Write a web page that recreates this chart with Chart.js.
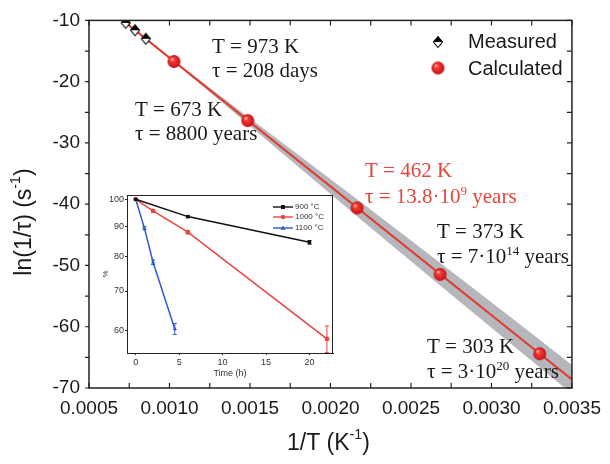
<!DOCTYPE html>
<html><head><meta charset="utf-8">
<script src="https://cdn.jsdelivr.net/npm/chart.js@4.4.0/dist/chart.umd.min.js"></script>
<style>
html,body{margin:0;padding:0;background:#fff;}
#wrap{position:relative;width:610px;height:464px;background:#fff;}
#main{position:absolute;left:0;top:0;width:610px;height:464px;}
#ins{position:absolute;left:100px;top:188px;width:240px;height:192px;}
</style></head><body>
<div id="wrap"><div id="main"><canvas id="c1"></canvas></div><div id="ins"><canvas id="c2"></canvas></div></div>
<script>
// ---------- main chart data ----------
const measuredX = [0.000728, 0.000786, 0.000853];
const measuredY = [-10.4, -11.6, -13.0];
const calcX = [0.001028, 0.001486, 0.002165, 0.002681, 0.0033];
const calcY = [-16.7, -26.35, -40.6, -51.45, -64.4];
const fitX = [0.00071, 0.0035];
const fitY = [-10.0, -68.6];
const bandX = [0.00071, 0.0010, 0.0013, 0.0016, 0.0019, 0.0022, 0.0025, 0.0028, 0.0031, 0.0035];
const bandUpper = [-9.95, -16.02, -22.06, -28.01, -33.96, -39.91, -45.96, -52.01, -58.10, -66.30];
const bandLower = [-10.05, -16.22, -22.76, -29.41, -36.06, -42.71, -49.26, -55.81, -62.30, -70.90];
const xMajorTicks = [0.0005, 0.0010, 0.0015, 0.0020, 0.0025, 0.0030, 0.0035];
const xTickLabels = ['0.0005', '0.0010', '0.0015', '0.0020', '0.0025', '0.0030', '0.0035'];
const xMinorTicks = [0.00075, 0.00125, 0.00175, 0.00225, 0.00275, 0.00325];
const yMajorTicks = [-70, -60, -50, -40, -30, -20, -10];
const yTickLabels = ['-70', '-60', '-50', '-40', '-30', '-20', '-10'];
const yMinorTicks = [-65, -55, -45, -35, -25, -15];
const legendLabels = ['Measured', 'Calculated'];
const annotationLines = [
  [['T = 973 K']], [['τ = 208 days']],
  [['T = 673 K']], [['τ = 8800 years']],
  [['T = 462 K']], [['τ = 13.8·10'], ['9', 1], [' years']],
  [['T = 373 K']], [['τ = 7·10'], ['14', 1], [' years']],
  [['T = 303 K']], [['τ = 3·10'], ['20', 1], [' years']]
];

// ---------- inset data ----------
const insetTime900 = [0, 6, 20];
const insetPct900 = [100, 93.5, 84.6];
const insetErr900 = [0, 0.4, 0.6];
const insetTime1000 = [0, 2, 6, 22];
const insetPct1000 = [100, 95.6, 88.0, 58.1];
const insetErr1000 = [0, 0.4, 0.6, 3.0];
const insetTime1100 = [0, 1, 2, 4.5];
const insetPct1100 = [100, 89.4, 78.3, 60.4];
const insetErr1100 = [0, 0.6, 0.7, 1.3];
const insetLabels = ['900 °C', '1000 °C', '1100 °C'];
const insetXTicks = [0, 5, 10, 15, 20];
const insetYTicks = [60, 70, 80, 90, 100];

// ---------- styles ----------
const RED = '#e4392f', RED_TXT = '#e5453b', INK = '#1a1a1a';
const SANS = '"Liberation Sans", Arial, sans-serif';
const SERIF = '"Liberation Serif", "Times New Roman", serif';
Chart.defaults.font.family = SANS;
Chart.defaults.color = INK;

function sphere(r) {
  const c = document.createElement('canvas'); const s = 2 * r + 2;
  c.width = s; c.height = s; const g = c.getContext('2d'); const cx = s / 2;
  const gr = g.createRadialGradient(cx - r * 0.35, cx - r * 0.4, r * 0.05, cx, cx, r);
  gr.addColorStop(0, '#ffc4bc'); gr.addColorStop(0.3, '#f23a30'); gr.addColorStop(0.8, '#d81c1c'); gr.addColorStop(1, '#b01018');
  g.fillStyle = gr; g.beginPath(); g.arc(cx, cx, r, 0, Math.PI * 2); g.fill();
  return c;
}
function halfDiamond(w, h) {
  const c = document.createElement('canvas'); c.width = w + 3; c.height = h + 3;
  const g = c.getContext('2d'); const cx = c.width / 2, cy = c.height / 2;
  g.beginPath(); g.moveTo(cx, cy - h / 2); g.lineTo(cx + w / 2, cy); g.lineTo(cx, cy + h / 2); g.lineTo(cx - w / 2, cy); g.closePath();
  g.fillStyle = '#fff'; g.fill();
  g.beginPath(); g.moveTo(cx, cy - h / 2); g.lineTo(cx + w / 2, cy); g.lineTo(cx - w / 2, cy); g.closePath();
  g.fillStyle = '#000'; g.fill();
  g.beginPath(); g.moveTo(cx, cy - h / 2); g.lineTo(cx + w / 2, cy); g.lineTo(cx, cy + h / 2); g.lineTo(cx - w / 2, cy); g.closePath();
  g.strokeStyle = '#000'; g.lineWidth = 1.1; g.stroke();
  return c;
}
const sphereImg = sphere(6.5);
const diamondImg = halfDiamond(9, 11);

function drawRich(ctx, parts, x, y, fs, family, align) {
  const widths = parts.map(p => { ctx.font = (p[1] ? fs * 0.62 : fs) + 'px ' + family; return ctx.measureText(p[0]).width; });
  const total = widths.reduce((a, b) => a + b, 0);
  let cx = align === 'center' ? x - total / 2 : x;
  parts.forEach((p, i) => {
    ctx.font = (p[1] ? fs * 0.62 : fs) + 'px ' + family;
    ctx.fillText(p[0], cx, p[1] ? y - fs * 0.38 : y);
    cx += widths[i];
  });
}

const annPos = [
  [212, 53, INK], [212, 77, INK], [135, 116, INK], [135, 140, INK],
  [365, 177, RED_TXT], [365, 203, RED_TXT], [437, 238, INK], [437, 263, INK],
  [427, 353, INK], [427, 378, INK]
];

const mainDecor = {
  id: 'mainDecor',
  afterDraw(chart) {
    const { ctx, chartArea: a, scales: { x, y } } = chart;
    ctx.save();
    ctx.strokeStyle = '#222'; ctx.lineWidth = 1.5;
    ctx.strokeRect(a.left, a.top, a.right - a.left, a.bottom - a.top);
    ctx.lineWidth = 1.2;
    const L = 5;
    ctx.beginPath();
    xMajorTicks.concat(xMinorTicks).forEach(v => {
      const p = x.getPixelForValue(v);
      ctx.moveTo(p, a.bottom); ctx.lineTo(p, a.bottom - L);
      ctx.moveTo(p, a.top); ctx.lineTo(p, a.top + L);
    });
    yMajorTicks.concat(yMinorTicks).forEach(v => {
      const p = y.getPixelForValue(v);
      ctx.moveTo(a.left, p); ctx.lineTo(a.left - 4, p);
      ctx.moveTo(a.right, p); ctx.lineTo(a.right - L, p);
    });
    ctx.stroke();
    // axis titles
    ctx.fillStyle = INK; ctx.textBaseline = 'middle';
    drawRich(ctx, [['1/T (K'], ['-1', 1], [')']], (a.left + a.right) / 2 - 2, 444, 23, SANS, 'center');
    ctx.save(); ctx.translate(25, 222); ctx.rotate(-Math.PI / 2);
    drawRich(ctx, [['ln(1/τ) (s'], ['-1', 1], [')']], 0, 0, 23, SANS, 'center');
    ctx.restore();
    // legend
    ctx.textBaseline = 'alphabetic'; ctx.font = '20px ' + SANS;
    ctx.drawImage(diamondImg, 438 - diamondImg.width / 2, 42 - diamondImg.height / 2);
    ctx.fillText(legendLabels[0], 468, 48);
    ctx.drawImage(sphereImg, 438 - sphereImg.width / 2, 68 - sphereImg.height / 2);
    ctx.fillText(legendLabels[1], 468, 75);
    // annotations
    annotationLines.forEach((parts, i) => {
      const [px, py, col] = annPos[i];
      ctx.fillStyle = col;
      drawRich(ctx, parts, px, py, 21, SERIF, 'left');
    });
    ctx.restore();
  }
};

const pts = (xs, ys) => xs.map((v, i) => ({ x: v, y: ys[i] }));

new Chart(document.getElementById('c1'), {
  type: 'scatter',
  data: {
    datasets: [
      { data: pts(measuredX, measuredY), pointStyle: diamondImg, order: 0 },
      { data: pts(calcX, calcY), pointStyle: sphereImg, order: 1 },
      { data: pts(fitX, fitY), showLine: true, borderColor: RED, borderWidth: 2, pointRadius: 0, order: 2 },
      { data: pts(bandX, bandUpper), showLine: true, borderColor: 'rgba(140,142,150,0.5)', borderWidth: 0.5, pointRadius: 0, fill: false, order: 3 },
      { data: pts(bandX, bandLower), showLine: true, borderColor: 'rgba(140,142,150,0.5)', borderWidth: 0.5, pointRadius: 0, fill: '-1', backgroundColor: 'rgba(168,170,178,0.85)', order: 4 }
    ]
  },
  options: {
    responsive: true, maintainAspectRatio: false, animation: false, events: [],
    layout: { padding: { left: 0, right: 29, top: 16, bottom: 0 } },
    plugins: { legend: { display: false }, tooltip: { enabled: false } },
    scales: {
      x: {
        type: 'linear', min: 0.0005, max: 0.0035,
        grid: { display: false, drawTicks: false }, border: { display: false },
        afterBuildTicks: s => { s.ticks = xMajorTicks.map(v => ({ value: v })); },
        afterFit: s => { s.height = 76; },
        ticks: { padding: 9, font: { size: 19 }, color: INK, maxRotation: 0, autoSkip: false, callback: (v, i) => xTickLabels[i] }
      },
      y: {
        type: 'linear', min: -70, max: -10,
        grid: { display: false, drawTicks: false }, border: { display: false },
        afterBuildTicks: s => { s.ticks = yMajorTicks.map(v => ({ value: v })); },
        afterFit: s => { s.width = 89; },
        ticks: { padding: 9, font: { size: 19 }, color: INK, autoSkip: false, callback: (v, i) => yTickLabels[i] }
      }
    }
  },
  plugins: [mainDecor]
});

// ---------- inset ----------
const BLK = '#111', IRED = '#e8453c', BLU = '#2a5bd0';
const insetSeries = [
  { t: insetTime900, p: insetPct900, e: insetErr900, c: BLK, s: 'rect' },
  { t: insetTime1000, p: insetPct1000, e: insetErr1000, c: IRED, s: 'circle' },
  { t: insetTime1100, p: insetPct1100, e: insetErr1100, c: BLU, s: 'triangle' }
];
const insetDecor = {
  id: 'insetDecor',
  beforeDraw(chart) {
    const { ctx, chartArea: a } = chart;
    ctx.save(); ctx.fillStyle = '#fff'; ctx.fillRect(a.left, a.top, a.right - a.left, a.bottom - a.top); ctx.restore();
  },
  afterDatasetsDraw(chart) {
    const { ctx, scales: { x, y } } = chart;
    ctx.save(); ctx.lineWidth = 1;
    insetSeries.forEach(sr => {
      ctx.strokeStyle = sr.c; ctx.beginPath();
      sr.t.forEach((t, i) => {
        if (!sr.e[i]) return;
        const px = x.getPixelForValue(t), y1 = y.getPixelForValue(sr.p[i] + sr.e[i]), y2 = y.getPixelForValue(sr.p[i] - sr.e[i]);
        ctx.moveTo(px, y1); ctx.lineTo(px, y2);
        ctx.moveTo(px - 2, y1); ctx.lineTo(px + 2, y1);
        ctx.moveTo(px - 2, y2); ctx.lineTo(px + 2, y2);
      });
      ctx.stroke();
    });
    ctx.restore();
  },
  afterDraw(chart) {
    const { ctx, chartArea: a } = chart;
    ctx.save();
    ctx.strokeStyle = '#222'; ctx.lineWidth = 1;
    ctx.strokeRect(a.left + 0.5, a.top + 0.5, a.right - a.left - 1, a.bottom - a.top);
    const rows = [19, 29, 40];
    insetSeries.forEach((sr, i) => {
      const yy = rows[i];
      ctx.strokeStyle = sr.c; ctx.fillStyle = sr.c; ctx.lineWidth = 1.4;
      ctx.beginPath(); ctx.moveTo(173, yy); ctx.lineTo(193, yy); ctx.stroke();
      ctx.beginPath();
      if (sr.s === 'rect') ctx.rect(181, yy - 2, 4, 4);
      else if (sr.s === 'circle') ctx.arc(183, yy, 2.2, 0, Math.PI * 2);
      else { ctx.moveTo(183, yy - 2.6); ctx.lineTo(185.5, yy + 1.8); ctx.lineTo(180.5, yy + 1.8); ctx.closePath(); }
      ctx.fill();
      ctx.fillStyle = '#333'; ctx.font = '8px ' + SANS; ctx.textBaseline = 'middle';
      ctx.fillText(insetLabels[i], 195, yy);
    });
    ctx.restore();
  }
};

new Chart(document.getElementById('c2'), {
  type: 'scatter',
  data: {
    datasets: insetSeries.map(sr => ({
      data: pts(sr.t, sr.p), showLine: true, borderColor: sr.c, backgroundColor: sr.c,
      borderWidth: 1.5, pointStyle: sr.s, pointRadius: 2.4, pointBorderWidth: 0
    }))
  },
  options: {
    responsive: true, maintainAspectRatio: false, animation: false, events: [],
    layout: { padding: { left: 0, right: 7, top: 7, bottom: 0 } },
    plugins: { legend: { display: false }, tooltip: { enabled: false } },
    scales: {
      x: {
        type: 'linear', min: -1, max: 22.7,
        grid: { display: true, drawOnChartArea: false, drawTicks: true, tickLength: 2, color: '#222' },
        border: { display: true, color: '#222', width: 1 },
        afterBuildTicks: s => { s.ticks = insetXTicks.map(v => ({ value: v })); },
        afterFit: s => { s.height = 27; },
        ticks: { padding: 2, font: { size: 9 }, color: '#333', maxRotation: 0, autoSkip: false },
        title: { display: true, text: 'Time (h)', font: { size: 9 }, color: '#333', padding: { top: 0, bottom: 1.5 } }
      },
      y: {
        type: 'logarithmic', min: 55, max: 101.7,
        grid: { display: true, drawOnChartArea: false, drawTicks: true, tickLength: 2, color: '#222' },
        border: { display: true, color: '#222', width: 1 },
        afterBuildTicks: s => { s.ticks = insetYTicks.map(v => ({ value: v })); },
        afterFit: s => { s.width = 27; },
        ticks: { padding: 1, font: { size: 9 }, color: '#333', autoSkip: false, callback: v => String(v) },
        title: { display: true, text: '%', font: { size: 8 }, color: '#333', padding: { top: 1, bottom: 0 } }
      }
    }
  },
  plugins: [insetDecor]
});
</script>
</body></html>
